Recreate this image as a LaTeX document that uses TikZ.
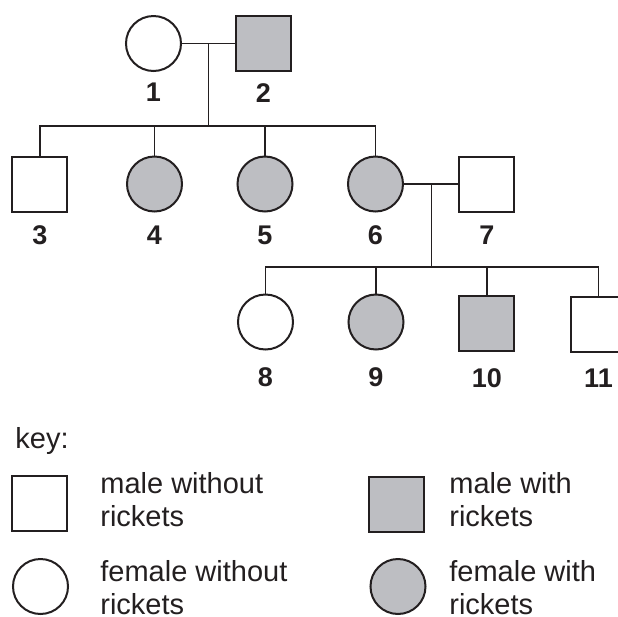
\documentclass[tikz,border=0pt]{standalone}
\usepackage{fontspec}
\setmainfont{Liberation Sans}
\usetikzlibrary{positioning,calc}
\definecolor{rickets}{RGB}{189,190,194}
\definecolor{ink}{RGB}{35,31,32}

\begin{document}
\begin{tikzpicture}[x=0.5pt, y=-0.5pt,
    male/.style={draw=ink, line width=1pt, rectangle, minimum size=27.5pt, inner sep=0pt},
    female/.style={draw=ink, line width=1pt, circle, minimum size=27.5pt, inner sep=0pt},
    ill/.style={fill=rickets},
    num/.style={font=\fontsize{13.5}{16}\selectfont\bfseries, text=ink, inner sep=0pt},
    keytext/.style={font=\fontsize{14.5}{16.5}\selectfont, text=ink, align=left, inner sep=0pt, anchor=north west},
    link/.style={draw=ink, line width=0.6pt}]
    \useasboundingbox (0,0) rectangle (618,617);
    % parents
    \node[female] (p1) at (153.5,43.5) {};
    \node[male, ill] (p2) at (263.5,43.5) {};
    % their children, and 7
    \node[male] (p3) at (40,184) {};
    \node[female, ill] (p4) at (154.5,184) {};
    \node[female, ill] (p5) at (265,184) {};
    \node[female, ill] (p6) at (375.5,184) {};
    \node[male] (p7) at (487,184) {};
    % grandchildren
    \node[female] (p8) at (265.5,322) {};
    \node[female, ill] (p9) at (376,322) {};
    \node[male, ill] (p10) at (487,323.5) {};
    \node[male] (p11) at (598.5,324) {};
    % numbers
    \foreach \i/\gap in {
      1/5.5, 2/5.5, 3/6.5, 4/6.5, 5/6.5, 6/6.5,
      7/6.5, 8/8.5, 9/8.5, 10/8, 11/8
    }{
      \node[num, below=\gap pt of p\i] (n\i) {\i};
    }
    % first family
    \draw[link] (p1) -- (p2);
    \coordinate (m12) at ($(p1.east)!0.5!(p2.west)$);
    \coordinate (s12) at ($(m12)+(0,82.5)$);
    \draw[link] (m12) -- (s12);
    \draw[link] (p3.north) |- (s12) -| (p6.north);
    \foreach \i in {4,5}{
      \draw[link] (p\i.north) -- (p\i.north |- s12);
    }
    % second family
    \draw[link] (p6) -- (p7);
    \coordinate (m67) at ($(p6.east)!0.5!(p7.west)$);
    \coordinate (s67) at ($(m67)+(0,83)$);
    \draw[link] (m67) -- (s67);
    \draw[link] (p8.north) |- (s67) -| (p11.north);
    \foreach \i in {9,10}{
      \draw[link] (p\i.north) -- (p\i.north |- s67);
    }
    % key
    \node[keytext, anchor=base west] (keyhead) at (15,448) {key:};
    \node[male] (k1) at (40,503.5) {};
    \node[male, ill] (k2) at (396.5,504) {};
    \node[female] (k3) at (40.5,586.5) {};
    \node[female, ill] (k4) at (398,586.5) {};
    \node[keytext] (t1) at (100,472) {male without\\rickets};
    \node[keytext] (t2) at (449,472) {male with\\rickets};
    \node[keytext] (t3) at (100,560) {female without\\rickets};
    \node[keytext] (t4) at (449,560) {female with\\rickets};
\end{tikzpicture}
\end{document}
